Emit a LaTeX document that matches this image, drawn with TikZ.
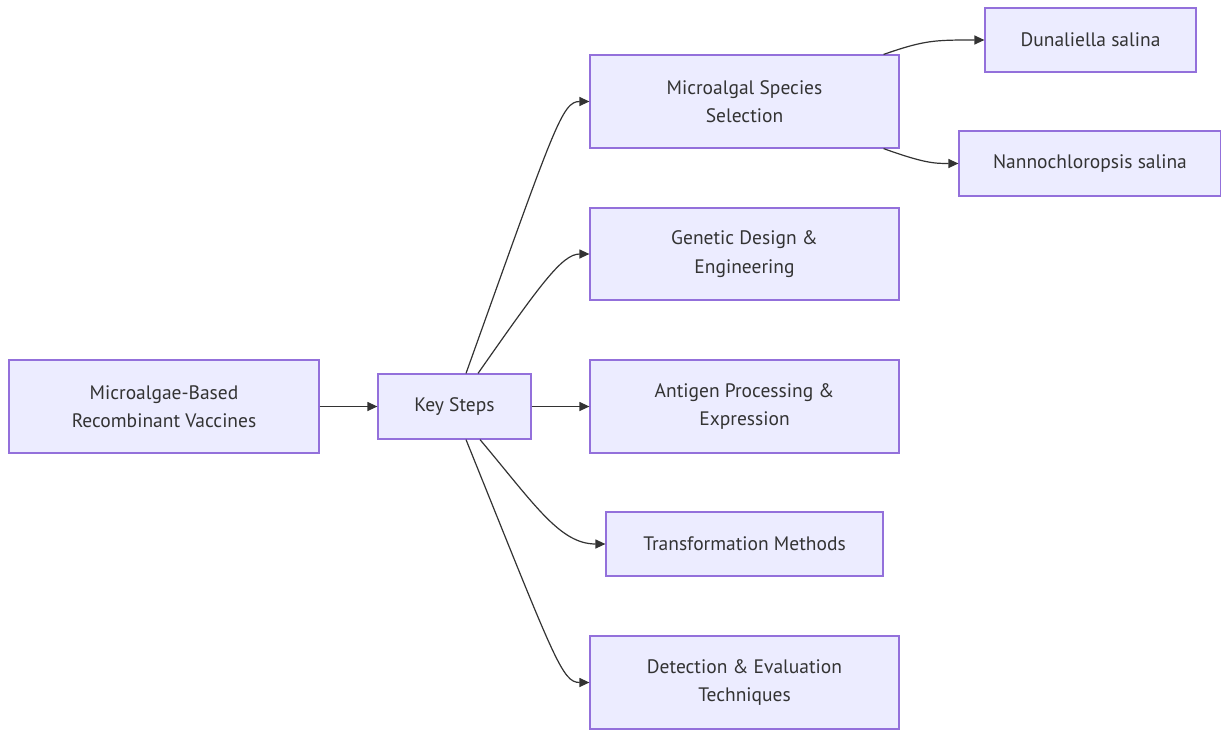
\documentclass[tikz,border=0pt]{standalone}
\usepackage{fontspec}
\setmainfont{PT Sans}
\usetikzlibrary{calc,arrows.meta}
\definecolor{boxfill}{HTML}{ECECFF}
\definecolor{boxline}{HTML}{9370DB}
\definecolor{edgecol}{HTML}{333333}
\definecolor{txt}{HTML}{333333}
\begin{document}
\begin{tikzpicture}[x=1pt,y=-1pt,
  box/.style={draw=boxline,fill=boxfill,line width=1.2pt,text=txt,align=center,inner sep=0pt,
    font=\fontsize{19.5}{28.5}\selectfont},
  edge/.style={draw=edgecol,line width=1.2pt,-{Triangle[length=10pt,width=9pt]}}]
\useasboundingbox (0,0) rectangle (1221,731);
\node[box,minimum width=310,minimum height=93] (A) at (164,406.5) {Microalgae-Based\\Recombinant Vaccines};
\node[box,minimum width=153,minimum height=65] (K) at (454.5,406.5) {Key Steps};
\node[box,minimum width=309,minimum height=93] (M1) at (744.5,101.5) {Microalgal Species\\Selection};
\node[box,minimum width=309,minimum height=92] (M2) at (744.5,254) {Genetic Design \&\\Engineering};
\node[box,minimum width=309,minimum height=93] (M3) at (744.5,406.5) {Antigen Processing \&\\Expression};
\node[box,minimum width=277,minimum height=64] (M4) at (744.5,544) {Transformation Methods};
\node[box,minimum width=309,minimum height=93] (M5) at (744.5,682.5) {Detection \& Evaluation\\Techniques};
\node[box,minimum width=211,minimum height=64] (D) at (1090.5,40) {Dunaliella salina};
\node[box,minimum width=262,minimum height=65] (N) at (1090,163.5) {Nannochloropsis salina};
\draw[edge] (A.east) -- (K.west);
\draw[edge] (K.east) -- (M3.west);
\draw[edge] ($(K.north)+(11.5,0)$) .. controls (555,125) and (562,101.5) .. (M1.west);
\draw[edge] ($(K.north)+(23.5,0)$) .. controls (540,285) and (562,254) .. (M2.west);
\draw[edge] ($(K.south)+(25.5,0)$) .. controls (535,505) and (560,544) .. (M4.west);
\draw[edge] ($(K.south)+(11.5,0)$) .. controls (555,660) and (562,682.5) .. (M5.west);
\draw[edge] ($(M1.north east)+(-16,0)$) .. controls (925,40) and (935,40) .. (D.west);
\draw[edge] ($(M1.south east)+(-16,0)$) .. controls (925,163.5) and (935,163.5) .. (N.west);
\end{tikzpicture}
\end{document}
